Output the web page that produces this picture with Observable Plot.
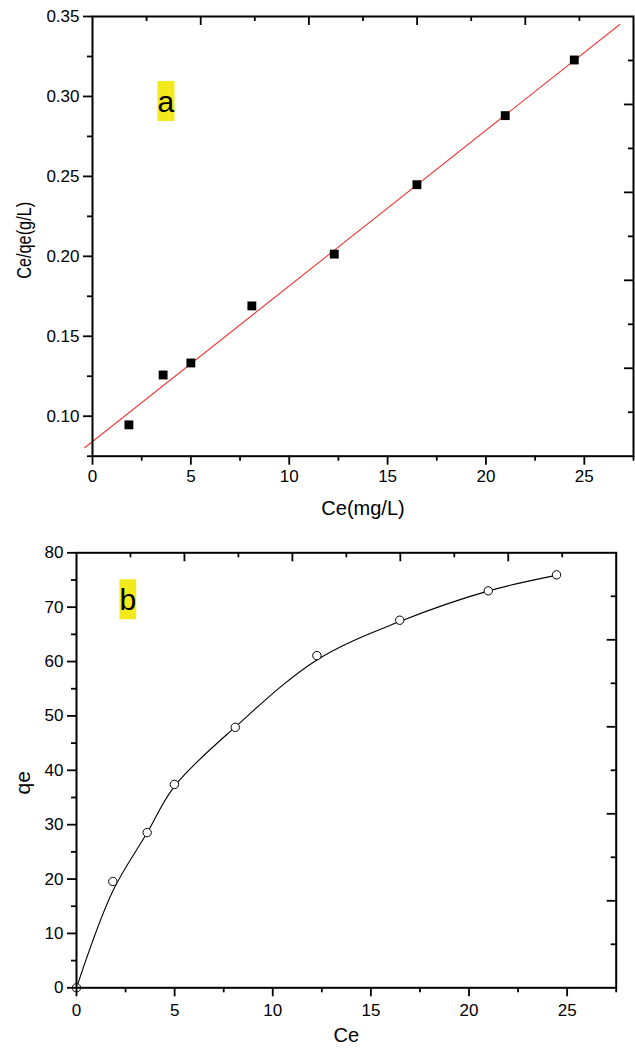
<!DOCTYPE html>
<html><head><meta charset="utf-8">
<script src="https://cdn.jsdelivr.net/npm/d3@7"></script>
<script src="https://cdn.jsdelivr.net/npm/@observablehq/plot@0.6"></script>
<style>
html,body{margin:0;padding:0;background:#fff;overflow:hidden;}
#chart svg{display:block;}
</style></head><body><div id="chart"></div>
<script>
// ---------- Panel a data (linearised Langmuir) ----------
const ceA = [1.85, 3.59, 5.0, 8.1, 12.29, 16.49, 20.98, 24.49];
const ceQeA = [0.0946, 0.1258, 0.1333, 0.1690, 0.2014, 0.2448, 0.2880, 0.3228];
const fitCe = [-0.4, 26.8];
const fitCeQe = [0.0803, 0.3450];
const xTicksA = [0, 5, 10, 15, 20, 25];
const xMinorA = [2.5, 7.5, 12.5, 17.5, 22.5, 27.5];
const yTicksA = [0.10, 0.15, 0.20, 0.25, 0.30, 0.35];
const yMinorA = [0.075, 0.125, 0.175, 0.225, 0.275, 0.325];

// ---------- Panel b data (isotherm) ----------
const ceB = [0, 1.85, 3.6, 4.99, 8.09, 12.25, 16.47, 20.98, 24.46];
const qeB = [0, 19.55, 28.55, 37.4, 47.9, 61.1, 67.6, 73.0, 75.95];
const curveCe = [0, 1.85, 3.6, 5.0, 8.1, 12.25, 16.5, 21.0, 24.5];
const curveQe = [0, 17.8, 28.5, 37.1, 48.0, 60.3, 67.4, 73.0, 75.9];
const xTicksB = [0, 5, 10, 15, 20, 25];
const xMinorB = [2.5, 7.5, 12.5, 17.5, 22.5, 27.5];
const yTicksB = [0, 10, 20, 30, 40, 50, 60, 70, 80];
const yMinorB = [5, 15, 25, 35, 45, 55, 65, 75];

const FONT = "'Liberation Sans', Arial, Helvetica, sans-serif";
const W = 635;

// top/right inner ticks: 10 equal divisions of the frame, alternating long/short
function frameTicks(domain, fw, fh, axis) {
  const [d0, d1] = domain;
  const vals = d3.range(1, 10).map(i => ({v: d0 + i * (d1 - d0) / 10, major: i % 2 === 0}));
  const maj = vals.filter(d => d.major).map(d => d.v);
  const min = vals.filter(d => !d.major).map(d => d.v);
  if (axis === "x") {
    return [
      Plot.ruleX(maj, {x: d => d, insetBottom: fh - 9, stroke: "black", strokeWidth: 1.8}),
      Plot.ruleX(min, {x: d => d, insetBottom: fh - 5, stroke: "black", strokeWidth: 1.8})
    ];
  }
  return [
    Plot.ruleY(maj, {y: d => d, insetLeft: fw - 9, stroke: "black", strokeWidth: 1.8}),
    Plot.ruleY(min, {y: d => d, insetLeft: fw - 5, stroke: "black", strokeWidth: 1.8})
  ];
}

function panel(o) {
  const fw = W - o.ml - o.mr, fh = o.h - o.mt - o.mb;
  return Plot.plot({
    width: W, height: o.h,
    marginTop: o.mt, marginRight: o.mr, marginBottom: o.mb, marginLeft: o.ml,
    x: {domain: o.xDomain, axis: null},
    y: {domain: o.yDomain, axis: null},
    style: {fontFamily: FONT, fontSize: "17px", color: "#000", background: "white", overflow: "visible"},
    marks: [
      ...o.data,
      Plot.frame({stroke: "black", strokeWidth: 2}),
      Plot.axisX({ticks: o.xTicks, tickSize: 9, tickPadding: o.xPad, fontSize: 17, strokeWidth: 1.8, label: null, anchor: "bottom"}),
      Plot.axisX({ticks: o.xMinor, tickSize: 5, tickFormat: () => "", strokeWidth: 1.8, label: null, anchor: "bottom"}),
      Plot.axisY({ticks: o.yTicks, tickSize: 9, tickPadding: 4, fontSize: 17, strokeWidth: 1.8, label: null, anchor: "left", tickFormat: o.yFormat}),
      Plot.axisY({ticks: o.yMinor, tickSize: 5, tickFormat: () => "", strokeWidth: 1.8, label: null, anchor: "left"}),
      ...frameTicks(o.xDomain, fw, fh, "x"),
      ...frameTicks(o.yDomain, fw, fh, "y"),
      Plot.text([o.xTitle], {text: d => d, frameAnchor: "bottom", textAnchor: "middle", lineAnchor: "bottom", dy: o.xTitleDy, fontSize: 20, fill: "black"}),
      Plot.text([o.yTitle], {text: d => d, frameAnchor: "left", textAnchor: "middle", rotate: -90, lineAnchor: "bottom", dx: o.yTitleDx, dy: o.yTitleDy, fontSize: 21, fill: "black"}),
      Plot.text([o.label], {text: d => d, frameAnchor: "top-left", textAnchor: "start", lineAnchor: "bottom", dx: o.labelDx, dy: o.labelDy, fontSize: 30, fill: "black"})
    ]
  });
}

const tableA = ceA.map((c, i) => ({x: c, y: ceQeA[i]}));
const fitA = fitCe.map((c, i) => ({x: c, y: fitCeQe[i]}));
const tableB = ceB.map((c, i) => ({x: c, y: qeB[i]}));
const curveB = curveCe.map((c, i) => ({x: c, y: curveQe[i]}));

const plotA = panel({
  h: 530, mt: 16, mb: 74.3, ml: 92, mr: 2,
  xDomain: [0, 27.5], yDomain: [0.075, 0.35],
  xTicks: xTicksA, xMinor: xMinorA, yTicks: yTicksA, yMinor: yMinorA,
  yFormat: d3.format(".2f"), xPad: 5,
  xTitle: "Ce(mg/L)", xTitleDy: 58.3,
  yTitle: "Ce/qe(g/L)", yTitleDx: -61.4, yTitleDy: 4,
  label: "a", labelDx: 65, labelDy: 95,
  data: [
    Plot.line(fitA, {x: "x", y: "y", stroke: "#f03a3a", strokeWidth: 1.1}),
    Plot.dot(tableA, {x: "x", y: "y", symbol: "square", r: 5, fill: "black", stroke: "none"})
  ]
});

const plotB = panel({
  h: 524, mt: 22.3, mb: 66.7, ml: 76, mr: 19.3,
  xDomain: [0, 27.5], yDomain: [0, 80],
  xTicks: xTicksB, xMinor: xMinorB, yTicks: yTicksB, yMinor: yMinorB,
  yFormat: d3.format("d"), xPad: 7,
  xTitle: "Ce", xTitleDy: 53.7,
  yTitle: "qe", yTitleDx: -46.5, yTitleDy: 12.5,
  label: "b", labelDx: 43, labelDy: 57,
  data: [
    Plot.line(curveB, {x: "x", y: "y", curve: "catmull-rom", stroke: "black", strokeWidth: 1.1}),
    Plot.dot(tableB, {x: "x", y: "y", r: 4.2, fill: "white", stroke: "black", strokeWidth: 1})
  ]
});

const root = document.getElementById("chart");
root.appendChild(plotA);
root.appendChild(plotB);

// yellow highlight behind the panel labels, sized from the rendered text
const SVGNS = "http://www.w3.org/2000/svg";
[[plotA, "a"], [plotB, "b"]].forEach(([svg, lab]) => {
  svg.querySelectorAll("text").forEach(t => {
    if (t.textContent !== lab) return;
    const b = t.getBBox();
    const fs = 30;
    const cy = b.y + b.height / 2;
    const r = document.createElementNS(SVGNS, "rect");
    r.setAttribute("x", b.x);
    r.setAttribute("width", b.width);
    r.setAttribute("y", cy - fs * 0.667);
    r.setAttribute("height", fs * 1.333);
    r.setAttribute("fill", "#f2ea1c");
    const tr = t.getAttribute("transform");
    if (tr) r.setAttribute("transform", tr);
    t.parentNode.insertBefore(r, t);
  });
});
// the long y title is set condensed, as in the reference
plotA.querySelectorAll("text").forEach(t => {
  if (t.textContent === "Ce/qe(g/L)") {
    t.setAttribute("textLength", 77);
    t.setAttribute("lengthAdjust", "spacingAndGlyphs");
  }
});
</script></body></html>
